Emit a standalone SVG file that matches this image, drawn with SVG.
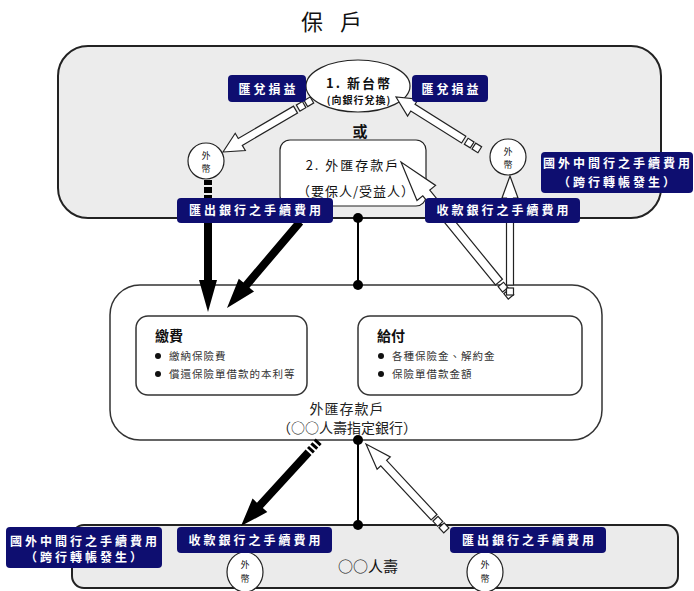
<svg xmlns="http://www.w3.org/2000/svg" width="694" height="591" viewBox="0 0 694 591">
<style>
.cjk{font-family:"Noto Sans CJK TC","Noto Sans CJK SC",sans-serif}
.lbl{fill:#0e0e70}
.lt{fill:#fff;font-weight:bold;font-size:12px;letter-spacing:3px;text-anchor:middle}
.wa{fill:#fff;stroke:#222;stroke-width:1.2}
.ba{fill:#000}
.coin{fill:#fff;stroke:#222;stroke-width:1.2}
.ct{font-size:9px;text-anchor:middle;fill:#111}
.body{font-size:10.5px;letter-spacing:1px;fill:#333}
.dot{fill:#000}
</style>
<rect width="694" height="591" fill="#fff"/>
<text class="cjk" x="301" y="30" font-size="22" letter-spacing="6" fill="#111">保 戶</text>

<g id="top-area"><rect x="58" y="46" width="603" height="172" rx="30" fill="#ececec" stroke="#222" stroke-width="2"/></g>
<g id="middle-area"><rect x="110" y="285" width="492" height="155" rx="30" fill="#fff" stroke="#333" stroke-width="1.5"/></g>
<g id="bottom-area"><rect x="72" y="525" width="606" height="63" rx="12" fill="#ebebeb" stroke="#222" stroke-width="2"/></g>

<g id="ntd" class="cjk">
  <ellipse cx="358" cy="86" rx="52" ry="26" fill="#fff" stroke="#222" stroke-width="1.2"/>
  <text x="359" y="88" font-size="13" font-weight="bold" letter-spacing="2" text-anchor="middle" fill="#111">1. 新台幣</text>
  <text x="359" y="104" font-size="10" font-weight="bold" letter-spacing="1" text-anchor="middle" fill="#111">(向銀行兌換)</text>
</g>
<g id="or" class="cjk"><text x="360" y="137" font-size="15" font-weight="bold" text-anchor="middle" fill="#111">或</text></g>
<g id="fx-account-holder" class="cjk">
  <rect x="280" y="140" width="146" height="66" rx="10" fill="#fff" stroke="#222" stroke-width="1.2"/>
  <text x="353" y="170" font-size="13" letter-spacing="2" text-anchor="middle" fill="#111">2. 外匯存款戶</text>
  <text x="356" y="196" font-size="13" letter-spacing="1" text-anchor="middle" fill="#111">（要保人/受益人）</text>
</g>
<g id="coin-top-left" class="cjk">
  <circle class="coin" cx="206" cy="161" r="18"/>
  <text class="ct" x="206" y="159">外</text><text class="ct" x="206" y="172">幣</text>
</g>
<g id="coin-top-right" class="cjk">
  <circle class="coin" cx="508" cy="157" r="18"/>
  <text class="ct" x="508" y="155">外</text><text class="ct" x="508" y="168">幣</text>
</g>

<g id="pay-box" class="cjk">
  <rect x="136" y="316" width="171" height="79" rx="12" fill="#fff" stroke="#333" stroke-width="1.5"/>
  <text x="155" y="341" font-size="14" font-weight="bold" fill="#111">繳費</text>
  <circle cx="158" cy="356" r="3" fill="#111"/><circle cx="158" cy="374" r="3" fill="#111"/>
  <text class="body" x="169" y="360">繳納保險費</text>
  <text class="body" x="169" y="378">償還保險單借款的本利等</text>
</g>
<g id="benefit-box" class="cjk">
  <rect x="358" y="316" width="224" height="79" rx="12" fill="#fff" stroke="#333" stroke-width="1.5"/>
  <text x="377" y="341" font-size="14" font-weight="bold" fill="#111">給付</text>
  <circle cx="381" cy="356" r="3" fill="#111"/><circle cx="381" cy="374" r="3" fill="#111"/>
  <text class="body" x="392" y="360">各種保險金、解約金</text>
  <text class="body" x="392" y="378">保險單借款金額</text>
</g>
<g id="designated-bank" class="cjk">
  <text x="347" y="414" font-size="14" letter-spacing="1" text-anchor="middle" fill="#222">外匯存款戶</text>
  <text x="347" y="433" font-size="14" text-anchor="middle" fill="#222">（○○人壽指定銀行）</text>
</g>

<g id="insurer" class="cjk">
  <text x="368" y="572" font-size="15" text-anchor="middle" fill="#111">○○人壽</text>
</g>
<g id="coin-bottom-left" class="cjk">
  <ellipse class="coin" cx="245" cy="572" rx="18" ry="20"/>
  <text class="ct" x="245" y="568">外</text><text class="ct" x="245" y="582">幣</text>
</g>
<g id="coin-bottom-right" class="cjk">
  <ellipse class="coin" cx="485" cy="572" rx="18" ry="20"/>
  <text class="ct" x="485" y="568">外</text><text class="ct" x="485" y="582">幣</text>
</g>

<g id="connectors">
  <line x1="358" y1="218" x2="358" y2="285" stroke="#000" stroke-width="2"/>
  <line x1="358" y1="440" x2="358" y2="525" stroke="#000" stroke-width="2"/>
  <circle class="dot" cx="358" cy="218" r="5"/>
  <circle class="dot" cx="358" cy="285" r="5"/>
  <circle class="dot" cx="358" cy="440" r="5"/>
  <circle class="dot" cx="358" cy="525" r="5"/>
  <g transform="translate(223,152) rotate(149.7)">
    <polygon class="wa" points="0,0 -20,-10 -20,-4 -84,-4 -84,4 -20,4 -20,10"/>
    <rect class="wa" x="-94" y="-3.5" width="7" height="7"/><rect class="wa" x="-103" y="-3.5" width="7" height="7"/>
  </g>
  <g transform="translate(396,97) rotate(-147.8)">
    <polygon class="wa" points="0,0 -20,-10 -20,-4 -80,-4 -80,4 -20,4 -20,10"/>
    <rect class="wa" x="-90" y="-3.5" width="7" height="7"/><rect class="wa" x="-99" y="-3.5" width="7" height="7"/>
  </g>
  <g transform="translate(401,162) rotate(-129.2)">
    <polygon class="wa" points="0,0 -40,-12 -40,-4.5 -155,-4.5 -155,4.5 -40,4.5 -40,12"/>
    <rect class="wa" x="-165" y="-3.5" width="7" height="7"/><rect class="wa" x="-174" y="-3.5" width="7" height="7"/>
  </g>
  <g transform="translate(510,176) rotate(-90)">
    <polygon class="wa" points="0,0 -22,-8 -22,-3.5 -109,-3.5 -109,3.5 -22,3.5 -22,8"/>
    <rect class="wa" x="-119" y="-3.5" width="7" height="7"/>
  </g>
  <g transform="translate(366,444) rotate(-132.9)">
    <polygon class="wa" points="0,0 -26,-9 -26,-4 -100,-4 -100,4 -26,4 -26,9"/>
    <rect class="wa" x="-109" y="-3.5" width="7" height="7"/><rect class="wa" x="-118" y="-3.5" width="7" height="7"/>
  </g>
  <rect class="ba" x="204" y="180" width="8" height="5"/>
  <rect class="ba" x="204" y="187" width="8" height="6"/>
  <rect class="ba" x="204" y="195" width="8" height="5"/>
  <g transform="translate(208,312) rotate(90)">
    <polygon class="ba" points="0,0 -32,-9 -32,-4 -114,-4 -114,4 -32,4 -32,9"/>
  </g>
  <g transform="translate(227,308) rotate(130.3)">
    <polygon class="ba" points="0,0 -30,-10 -30,-4 -113,-4 -113,4 -30,4 -30,10"/>
  </g>
  <g transform="translate(241,526) rotate(132.5)">
    <polygon class="ba" points="0,0 -28,-10 -28,-4 -100,-4 -100,4 -28,4 -28,10"/>
    <rect class="ba" x="-105" y="-4" width="3" height="8"/>
    <rect class="ba" x="-110" y="-4" width="3" height="8"/>
    <rect class="ba" x="-115" y="-4" width="3" height="8"/>
  </g>
</g>

<g id="fx-gain-left" class="cjk">
  <rect class="lbl" x="228" y="75" width="78" height="27" rx="4"/>
  <text class="lt" x="268.5" y="94" font-size="13">匯兌損益</text>
</g>
<g id="fx-gain-right" class="cjk">
  <rect class="lbl" x="412" y="75" width="76" height="27" rx="4"/>
  <text class="lt" x="451.5" y="94" font-size="13">匯兌損益</text>
</g>
<g id="fee-remit-top" class="cjk">
  <rect class="lbl" x="177" y="198" width="156" height="25" rx="4"/>
  <text class="lt" x="256.5" y="215">匯出銀行之手續費用</text>
</g>
<g id="fee-receive-top" class="cjk">
  <rect class="lbl" x="425" y="198" width="155" height="25" rx="4"/>
  <text class="lt" x="504" y="215">收款銀行之手續費用</text>
</g>
<g id="fee-intermediary-top" class="cjk">
  <rect class="lbl" x="541" y="152" width="152" height="41" rx="4"/>
  <text class="lt" x="618" y="168" letter-spacing="2.5">國外中間行之手續費用</text>
  <text class="lt" x="618" y="187" letter-spacing="1.5">（跨行轉帳發生）</text>
</g>
<g id="fee-intermediary-bottom" class="cjk">
  <rect class="lbl" x="6" y="527" width="156" height="41" rx="4"/>
  <text class="lt" x="85" y="546" letter-spacing="2.5">國外中間行之手續費用</text>
  <text class="lt" x="85" y="562" letter-spacing="1.5">（跨行轉帳發生）</text>
</g>
<g id="fee-receive-bottom" class="cjk">
  <rect class="lbl" x="177" y="527" width="155" height="26" rx="4"/>
  <text class="lt" x="256" y="545">收款銀行之手續費用</text>
</g>
<g id="fee-remit-bottom" class="cjk">
  <rect class="lbl" x="450" y="527" width="156" height="26" rx="4"/>
  <text class="lt" x="529.5" y="545">匯出銀行之手續費用</text>
</g>
</svg>
